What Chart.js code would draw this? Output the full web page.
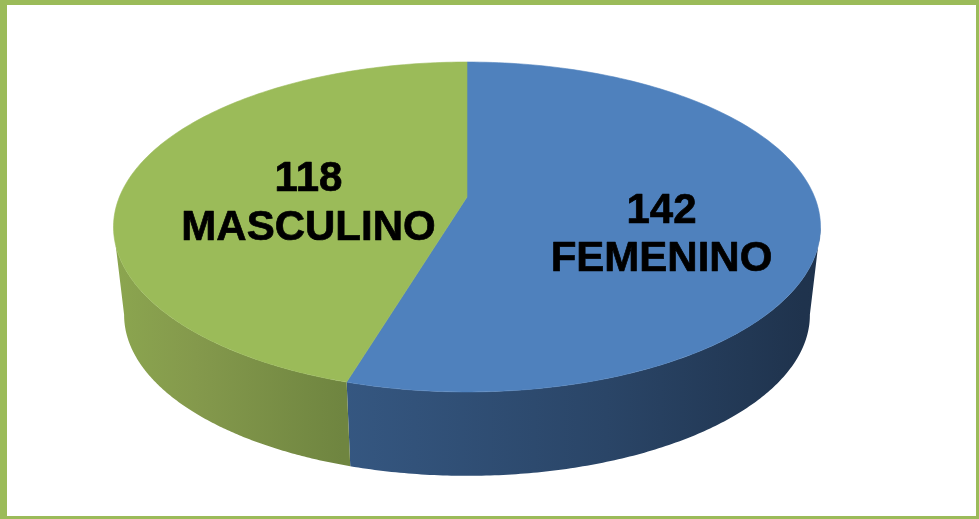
<!DOCTYPE html>
<html>
<head>
<meta charset="utf-8">
<script src="https://cdn.jsdelivr.net/npm/chart.js@4"></script>
<style>
html,body{margin:0;padding:0;background:#fff;width:979px;height:519px;overflow:hidden}
#frame{position:absolute;left:0;top:0;width:979px;height:519px;box-sizing:border-box;
  border-style:solid;border-color:#9bbb59;border-width:5px 3px 3px 7px}
canvas{position:absolute;left:0;top:0}
</style>
</head>
<body>
<div id="frame"></div>
<canvas id="c" width="979" height="519"></canvas>
<script>
const categories = ['FEMENINO', 'MASCULINO'];
const values = [142, 118];
const topColors = ['#4f81bd', '#9bbb59'];
const wallStops = [
  [[0.35, '#355781'], [0.62, '#2a4567'], [0.82, '#1f334d'], [1, '#1d3048']],
  [[0.12, '#8ba54f'], [0.20, '#84994c'], [0.35, '#6f8540']]
];
const labelSpots = [
  {x: 661.5, y1: 223, y2: 271},
  {x: 308.5, y1: 191, y2: 240}
];

// Perspective view of the pie disc: top face, then a lower, slightly smaller rim.
const view = {cx: 467, radius: 347.6, persp: -0.1818, a: 123.7, b: 197, midY: 227,
              rimSx: 0.97, rimSy: 0.975, rimDrop: 88};
// Where the visible side wall ends on the left and right of the disc (radians).
const wallRight = 0.18, wallLeftTop = 2.85, wallLeftRim = 2.96;

function project(angle, rim) {
  const u = Math.cos(angle), v = Math.sin(angle);
  const w = 1 + view.persp * v;
  let x = view.radius * u / w;
  let y = (view.a * v + view.b) / w;
  if (rim) {
    x *= view.rimSx;
    y = view.midY + (y - view.midY) * view.rimSy + view.rimDrop;
  }
  return [view.cx + x, y];
}

function traceCurve(ctx, from, to, rim, first) {
  const steps = 160;
  for (let i = 0; i <= steps; i++) {
    const p = project(from + (to - from) * i / steps, rim);
    if (i === 0 && first) ctx.moveTo(p[0], p[1]); else ctx.lineTo(p[0], p[1]);
  }
}

const pie3d = {
  id: 'pie3d',
  beforeDatasetsDraw(chart) {
    const ctx = chart.ctx;
    const arcs = chart.getDatasetMeta(0).data;
    ctx.save();

    // side walls, only the part facing the viewer
    arcs.forEach((arc, i) => {
      const from = Math.max(arc.startAngle, wallRight);
      const toTop = Math.min(arc.endAngle, wallLeftTop);
      const toRim = Math.min(arc.endAngle, wallLeftRim);
      const g = ctx.createLinearGradient(0, 0, chart.width, 0);
      wallStops[i].forEach(s => g.addColorStop(s[0], s[1]));
      ctx.beginPath();
      traceCurve(ctx, from, toTop, false, true);
      traceCurve(ctx, toRim, from, true, false);
      ctx.closePath();
      ctx.fillStyle = g;
      ctx.fill();
    });

    // top faces
    arcs.forEach((arc, i) => {
      ctx.beginPath();
      ctx.moveTo(view.cx, view.b);
      traceCurve(ctx, arc.startAngle, arc.endAngle, false, false);
      ctx.closePath();
      ctx.fillStyle = topColors[i];
      ctx.strokeStyle = topColors[i];
      ctx.lineWidth = 0.6;
      ctx.fill();
      ctx.stroke();
    });

    // data labels
    ctx.fillStyle = '#000';
    ctx.strokeStyle = '#000';
    ctx.lineWidth = 0.7;
    ctx.lineJoin = 'round';
    ctx.textAlign = 'center';
    ctx.textBaseline = 'alphabetic';
    ctx.font = 'bold 42px "Liberation Sans", Arial, sans-serif';
    labelSpots.forEach((s, i) => {
      [[String(values[i]), s.y1], [categories[i], s.y2]].forEach(([text, y]) => {
        ctx.fillText(text, s.x, y);
        ctx.strokeText(text, s.x, y);
      });
    });
    ctx.restore();
    return false;
  }
};

new Chart(document.getElementById('c'), {
  type: 'pie',
  data: {
    labels: categories,
    datasets: [{data: values, backgroundColor: topColors, borderWidth: 0}]
  },
  options: {
    responsive: false,
    animation: false,
    events: [],
    plugins: {legend: {display: false}, tooltip: {enabled: false}, title: {display: false}}
  },
  plugins: [pie3d]
});
</script>
</body>
</html>
